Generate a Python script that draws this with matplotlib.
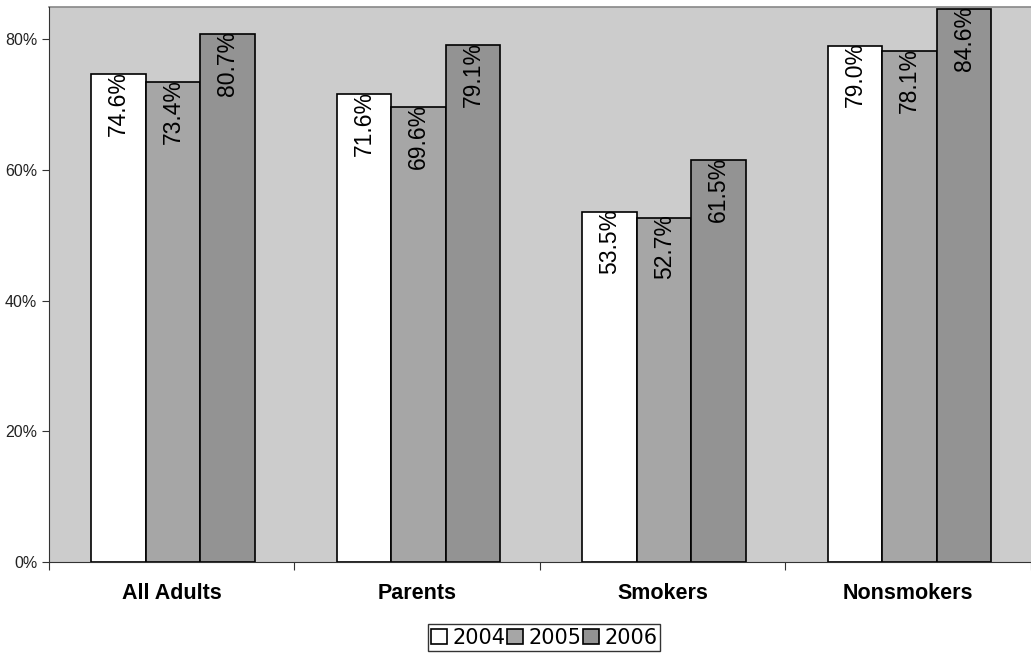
import numpy as np
import matplotlib.pyplot as plt
from matplotlib.ticker import PercentFormatter

plt.rcParams['font.family'] = ['Liberation Sans', 'DejaVu Sans']

categories = ['All Adults', 'Parents', 'Smokers', 'Nonsmokers']
years = ['2004', '2005', '2006']
v2004 = [74.6, 71.6, 53.5, 79.0]
v2005 = [73.4, 69.6, 52.7, 78.1]
v2006 = [80.7, 79.1, 61.5, 84.6]

colors = ['#FFFFFF', '#A6A6A6', '#939393']

fig = plt.figure(figsize=(10.31, 6.56), dpi=100)
ax = fig.add_axes([0.0475, 0.1433, 0.9525, 0.846])
ax.set_facecolor('#CCCCCC')

x = np.arange(len(categories))
w = 0.222
for i, (vals, c, yr) in enumerate(zip([v2004, v2005, v2006], colors, years)):
    pos = x + (i - 1) * w + 0.006
    ax.bar(pos, vals, w, color=c, edgecolor='black', linewidth=1.2, label=yr, zorder=2)
    for px, v in zip(pos, vals):
        ax.text(px, v + 0.5, f'{v:.1f}%', rotation=90, ha='center', va='top',
                fontsize=16.5, zorder=3)

ax.set_xlim(-0.5, len(categories) - 0.5)
ax.set_ylim(0, 84.9)
ax.set_yticks([0, 20, 40, 60, 80])
ax.yaxis.set_major_formatter(PercentFormatter(decimals=0))
ax.tick_params(axis='y', labelsize=11.5, length=5, color='#333333', labelcolor='#222222')

# category labels sit between the boundary ticks
ax.set_xticks(np.arange(len(categories) + 1) - 0.5)
ax.set_xticklabels([])
ax.set_xticks(x, minor=True)
ax.set_xticklabels(categories, minor=True, fontsize=15.5, fontweight='bold')
ax.tick_params(axis='x', which='major', length=6, color='#333333')
ax.tick_params(axis='x', which='minor', length=0, pad=15)

for s in ['top', 'right']:
    ax.spines[s].set_visible(False)
ax.spines['left'].set_color('#333333')
ax.spines['bottom'].set_color('#333333')
ax.axhline(84.9, color='#888888', linewidth=1.2, clip_on=False)

leg = fig.legend(loc='center', bbox_to_anchor=(0.528, 0.0282), ncol=3,
                 prop={'family': 'DejaVu Sans', 'size': 15},
                 frameon=True, fancybox=False, edgecolor='black', handlelength=0.75,
                 handleheight=0.75, handletextpad=0.25, columnspacing=0.1,
                 borderpad=0.15, borderaxespad=0)
leg.get_frame().set_linewidth(1.0)

fig.savefig('out.png', dpi=100)
